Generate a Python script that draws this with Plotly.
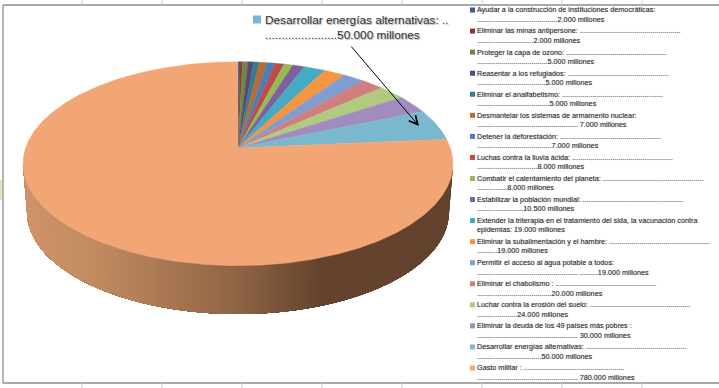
import math
import plotly.graph_objects as go

# ---- data ----
labels = [
    "Ayudar a la construcción de instituciones democráticas:",
    "Eliminar las minas antipersone:",
    "Proteger la capa de ozono:",
    "Reasentar a los refugiados:",
    "Eliminar el analfabetismo:",
    "Desmantelar los sistemas de armamento nuclear:",
    "Detener la deforestación:",
    "Luchas contra la lluvia ácida:",
    "Combatir el calentamiento del planeta:",
    "Estabilizar la población mundial:",
    "Extender la triterapia en el tratamiento del sida, la vacunación contra",
    "Eliminar la subalimentación y el hambre:",
    "Permitir el acceso al agua potable a todos:",
    "Eliminar el chabolismo :",
    "Luchar contra la erosión del suelo:",
    "Eliminar la deuda de los 49 países más pobres :",
    "Desarrollar energías alternativas:",
    "Gasto militar :",
]
values = [2000, 2000, 5000, 5000, 5000, 7000, 7000, 8000, 8000, 10500,
          19000, 19000, 19000, 20000, 24000, 30000, 50000, 780000]
value_text = ["2.000 millones", "2.000 millones", "5.000 millones", "5.000 millones",
              "5.000 millones", "7.000 millones", "7.000 millones", "8.000 millones",
              "8.000 millones", "10.500 millones", "epidemias: 19.000 millones",
              "19.000 millones", "19.000 millones", "20.000 millones", "24.000 millones",
              "30.000 millones", "50.000 millones", "780.000 millones"]
dots_line1 = [0, 50, 50, 50, 50, 0, 50, 50, 50, 50, 0, 50, 0, 50, 50, 0, 50, 50]
dots_line2 = [40, 28, 35, 34, 36, 50, 37, 30, 15, 23, 0, 10, 50, 37, 20, 50, 32, 50]
gap_line2 = ["", "", "", "", "", " ", "", "", "", "", "", "", " .........", "", "", " ", "", " "]
colors = ["#385D8A", "#8C3836", "#71893F", "#5C4776", "#357D91", "#B66D31",
          "#4A7EBB", "#BE4B48", "#98B954", "#7D60A0", "#46AAC4", "#F49542",
          "#7F9DCE", "#CF7F7E", "#B1CA80", "#A08DBD", "#7AB8D0", "#F2A676"]

# ---- pie geometry (perspective projection of a disc) ----
CX, CY, RX, RY, APEX = 238.0, 163.7, 215.0, 102.0, 15.7
BOT_CY, BOT_RX, BOT_RY = 212.0, 211.0, 102.0
K = APEX / RY
A = RX * math.sqrt(1 - K * K)


def rim(phi):
    u, v = math.sin(phi), math.cos(phi)
    w = 1 + K * v
    return CX + A * u / w, CY - (RY * v + APEX) / w


total = sum(values)
fig = go.Figure()


def lerp_color(c0, c1, t):
    return "rgb(%d,%d,%d)" % tuple(round(a + (b - a) * t) for a, b in zip(c0, c1))


# side wall, shaded from left to right
stops = [(22, (208, 148, 105)), (100, (192, 138, 95)), (240, (142, 99, 68)),
         (320, (99, 67, 46)), (460, (99, 67, 46))]


def side_color(x):
    for (x0, c0), (x1, c1) in zip(stops, stops[1:]):
        if x <= x1:
            return lerp_color(c0, c1, max(0, (x - x0) / (x1 - x0)))
    return lerp_color(stops[-1][1], stops[-1][1], 0)


# painted from the right, each band reaching to the left edge so no seams show
N = 160
for i in range(N):
    a0 = math.pi * i / N
    steps = 60
    arc = [a0 + (math.pi - a0) * j / steps for j in range(steps + 1)]
    xs = [CX + RX * math.cos(a) for a in arc] + [CX + BOT_RX * math.cos(a) for a in reversed(arc)]
    ys = [CY + RY * math.sin(a) for a in arc] + [BOT_CY + BOT_RY * math.sin(a) for a in reversed(arc)]
    col = side_color(CX + 0.5 * (RX + BOT_RX) * math.cos(a0 + math.pi / N / 2))
    fig.add_trace(go.Scatter(x=xs + xs[:1], y=ys + ys[:1], mode="lines", fill="toself",
                             fillcolor=col, line=dict(width=0),
                             hoverinfo="skip", showlegend=False))

# top surface slices, clockwise from 12 o'clock
cum = 0
for name, val, col in zip(labels, values, colors):
    start = cum / total * 2 * math.pi
    cum += val
    end = cum / total * 2 * math.pi
    steps = max(2, int((end - start) / 0.01))
    pts = [rim(start + (end - start) * j / steps) for j in range(steps + 1)]
    xs = [CX] + [p[0] for p in pts] + [CX]
    ys = [CY - APEX] + [p[1] for p in pts] + [CY - APEX]
    fig.add_trace(go.Scatter(x=xs, y=ys, mode="lines", fill="toself", fillcolor=col,
                             line=dict(color=col, width=0.4), name=name, showlegend=False))

# legend block
LEG_Y0, LEG_DY, LINE_DY = 10.6, 21.06, 9.4
LEG_SWATCH_X, LEG_TEXT_X = 472.5, 477.0
legend_y = [LEG_Y0 + LEG_DY * i for i in range(len(labels))]
line1 = [lab + (" " + "." * d if d else "") for lab, d in zip(labels, dots_line1)]
line2 = ["." * d + g + v for d, g, v in zip(dots_line2, gap_line2, value_text)]
font = dict(family="Liberation Sans", size=7.25, color="#333333", shadow="0 0 1px #999")
fig.add_trace(go.Scatter(x=[LEG_SWATCH_X] * len(labels), y=[y - 0.6 for y in legend_y], mode="markers",
                         marker=dict(symbol="square", size=5, color=colors, line=dict(width=0)),
                         hoverinfo="skip", showlegend=False))
fig.add_trace(go.Scatter(x=[LEG_TEXT_X] * len(labels), y=legend_y, mode="text", text=line1,
                         textposition="middle right", textfont=font,
                         hoverinfo="skip", showlegend=False))
fig.add_trace(go.Scatter(x=[LEG_TEXT_X] * len(labels), y=[y + LINE_DY for y in legend_y],
                         mode="text", text=line2, textposition="middle right", textfont=font,
                         hoverinfo="skip", showlegend=False))

# callout
call_font = dict(family="Liberation Sans", size=11.8, color="#333333", shadow="1px 1px 1px #aaa")
fig.add_trace(go.Scatter(x=[257], y=[19.5], mode="markers",
                         marker=dict(symbol="square", size=8, color=colors[16], line=dict(width=0)),
                         hoverinfo="skip", showlegend=False))
fig.add_annotation(x=263, y=20, xanchor="left", yanchor="middle", showarrow=False,
                   text=labels[16] + " ..", font=call_font)
fig.add_annotation(x=263, y=35, xanchor="left", yanchor="middle", showarrow=False,
                   text="." * 22 + value_text[16], font=call_font)
fig.add_annotation(x=419, y=126, ax=350, ay=45, xref="x", yref="y", axref="x", ayref="y",
                   text="", showarrow=True, arrowhead=5, arrowsize=1.7, arrowwidth=1,
                   arrowcolor="#000000")

# surrounding worksheet frame
shapes = [
    dict(type="line", x0=3, x1=719, y0=5, y1=5, line=dict(color="#8C8C8C", width=1.5)),
    dict(type="line", x0=3, x1=719, y0=383, y1=383, line=dict(color="#8C8C8C", width=1.5)),
    dict(type="line", x0=3, x1=3, y0=5, y1=383, line=dict(color="#8FA0B0", width=1.5)),
    dict(type="rect", x0=0, x1=2, y0=180, y1=200, fillcolor="#F5D9B0", line=dict(width=0)),
]
for tx in range(82, 719, 80):
    shapes.append(dict(type="line", x0=tx, x1=tx, y0=0, y1=5, line=dict(color="#D0D0D0", width=1)))
    shapes.append(dict(type="line", x0=tx, x1=tx, y0=383, y1=388, line=dict(color="#D0D0D0", width=1)))

fig.update_layout(
    width=719, height=388, margin=dict(l=0, r=0, t=0, b=0),
    paper_bgcolor="white", plot_bgcolor="white", showlegend=False, shapes=shapes,
    xaxis=dict(range=[0, 719], visible=False, fixedrange=True),
    yaxis=dict(range=[388, 0], visible=False, fixedrange=True),
)
fig.write_html("out.html", config=dict(displayModeBar=False),
               post_script="document.body.style.margin='0';document.documentElement.style.overflow='hidden';")
